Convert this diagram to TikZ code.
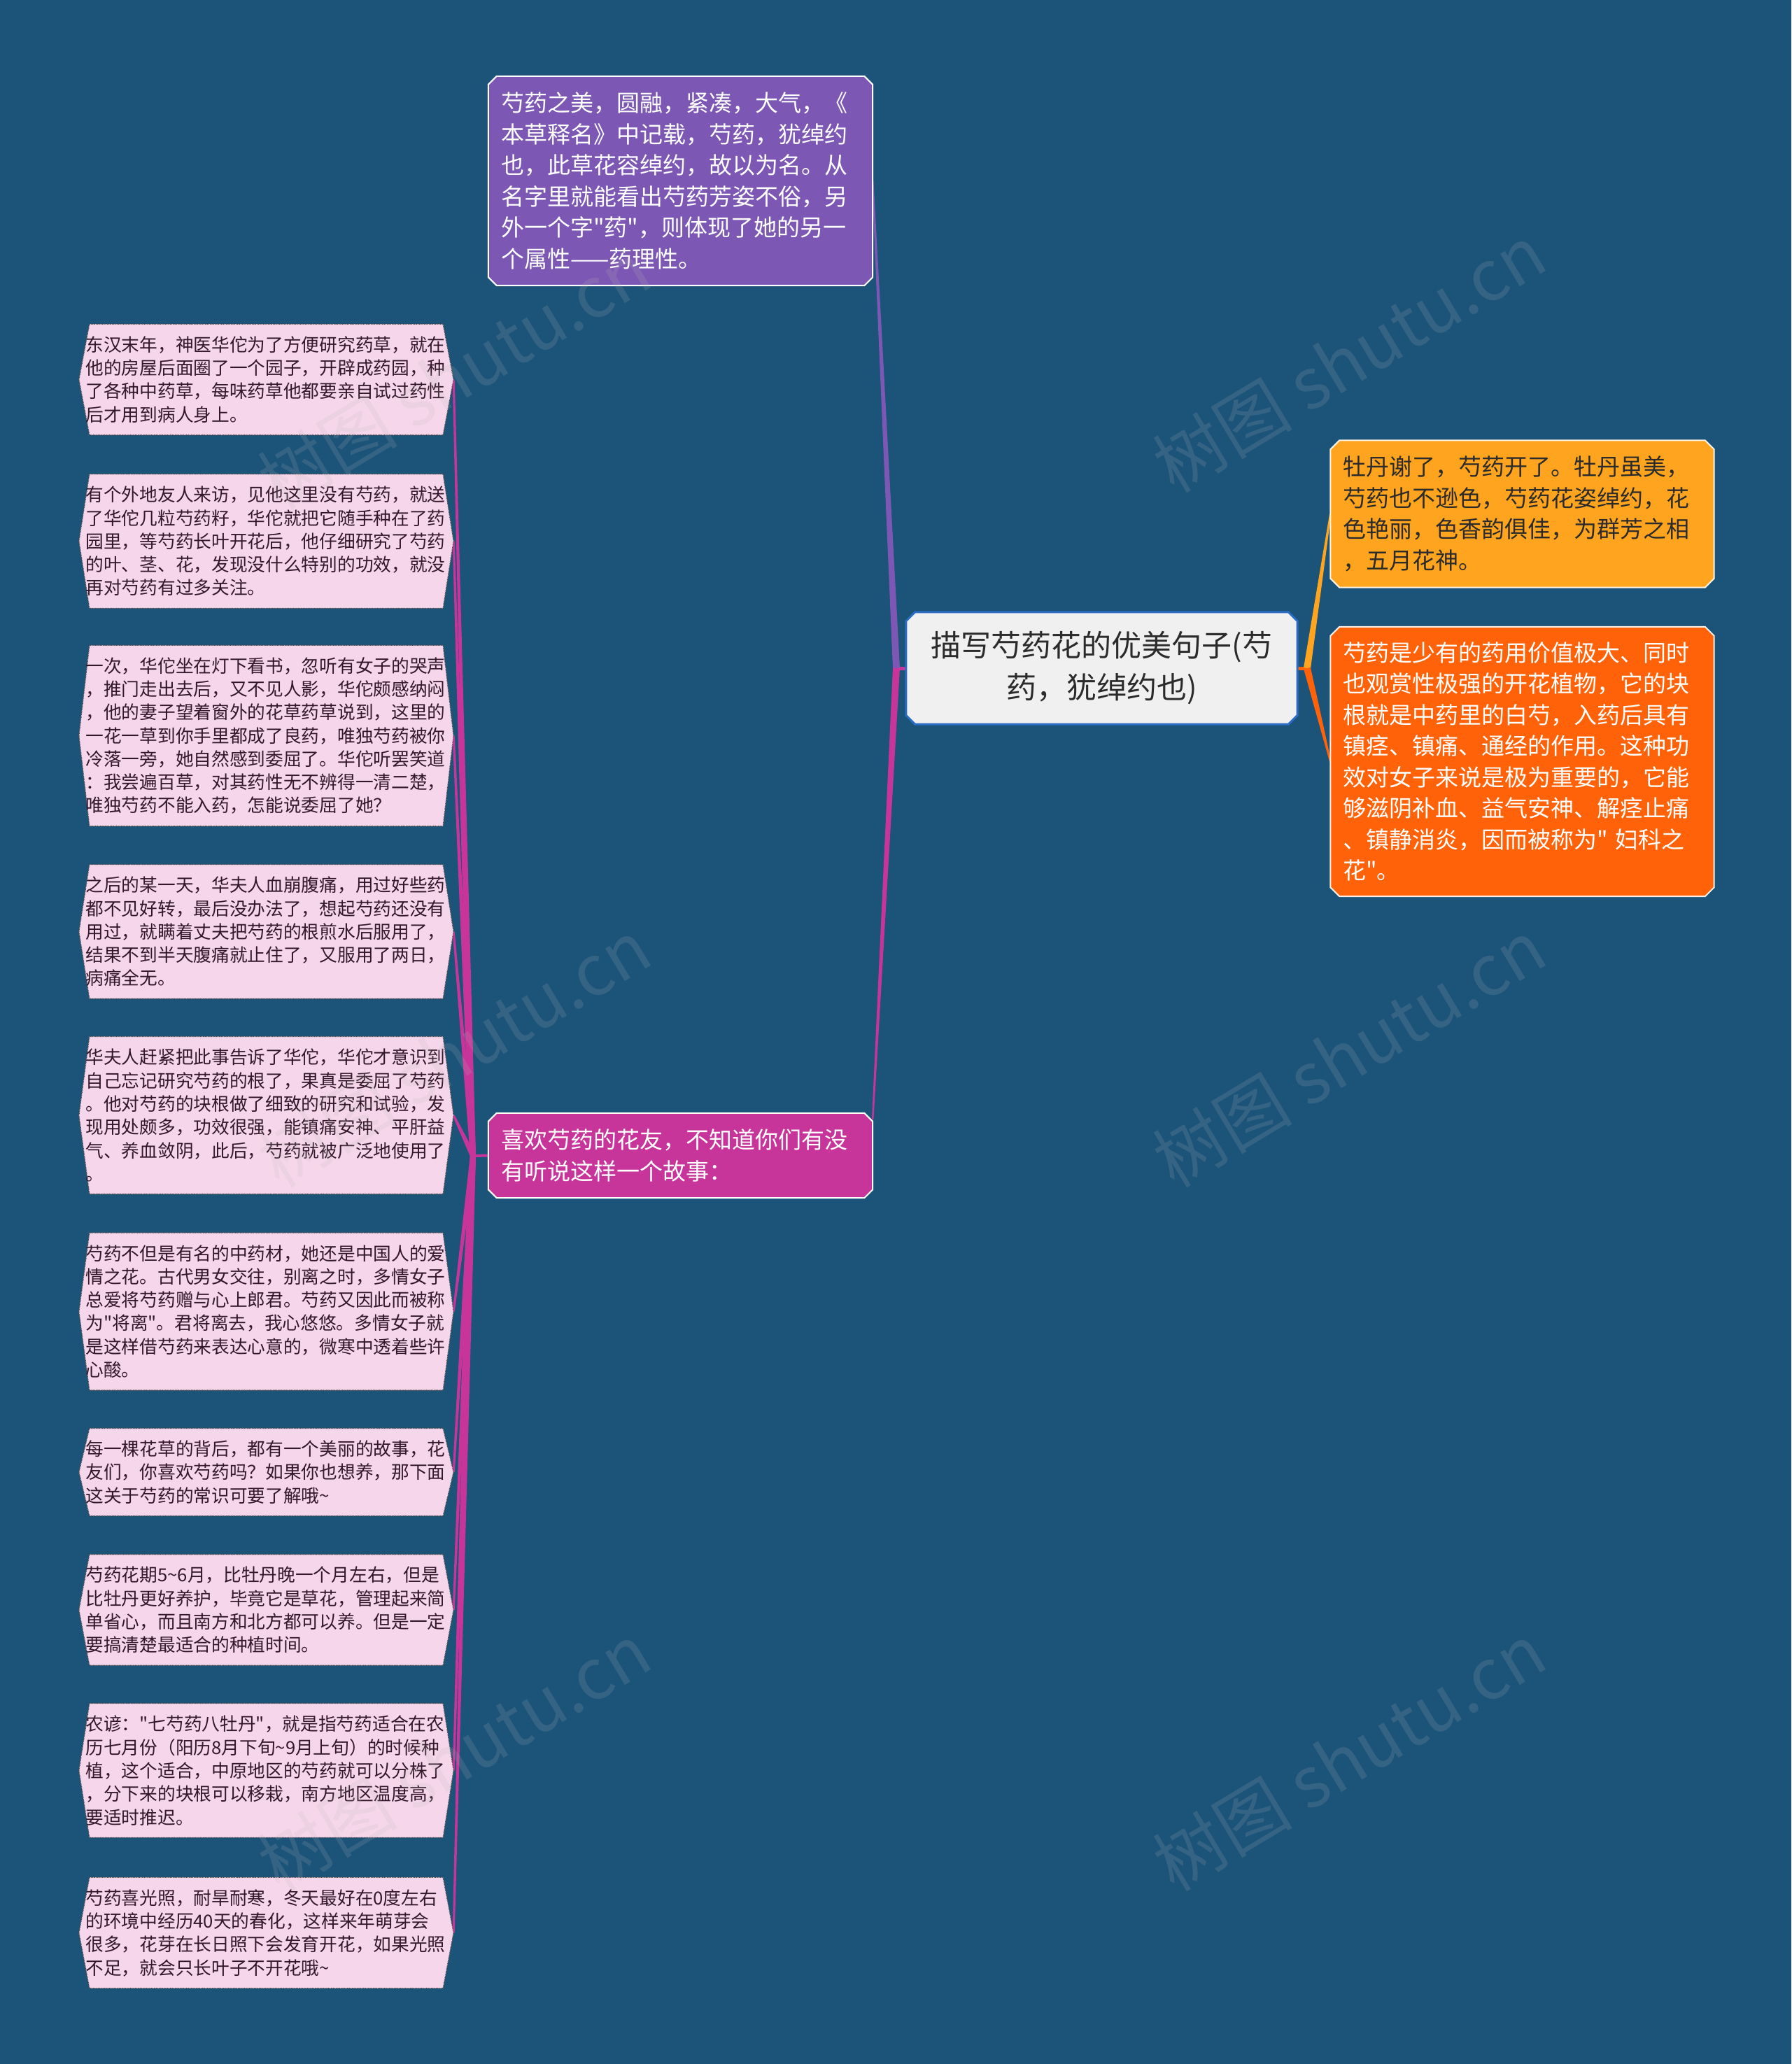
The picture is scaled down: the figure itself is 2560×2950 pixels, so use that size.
\documentclass[tikz,border=0pt]{standalone}
\usepackage{fontspec}
\setmainfont{Noto Sans CJK SC}[Ligatures=TeXOff]
\usetikzlibrary{calc}
\pgfdeclarelayer{back}
\pgfdeclarelayer{marks}
\pgfsetlayers{back,main,marks}
\definecolor{bgc}{HTML}{1B5379}
\definecolor{purp}{HTML}{7C58B4}
\definecolor{mag}{HTML}{C8359A}
\definecolor{orA}{HTML}{FFA41E}
\definecolor{orB}{HTML}{FF6208}
\definecolor{pinkf}{HTML}{F6D6EB}
\definecolor{pinktext}{HTML}{33182B}
\definecolor{cfill}{HTML}{F0F0F0}
\definecolor{cborder}{HTML}{2B6CC4}
\definecolor{darktext}{HTML}{2B2B2B}
\newcommand\chamfbox[3]{%
  \path[#3] ([xshift=#2]#1.north west) -- ([xshift=-#2]#1.north east) -- ([yshift=-#2]#1.north east) -- ([yshift=#2]#1.south east) -- ([xshift=-#2]#1.south east) -- ([xshift=#2]#1.south west) -- ([yshift=#2]#1.south west) -- ([yshift=-#2]#1.north west) -- cycle;}
\newcommand\hexbox[2]{%
  \path[#2] (#1.west) -- ([xshift=15pt]#1.north west) -- ([xshift=-15pt]#1.north east) -- (#1.east) -- ([xshift=-15pt]#1.south east) -- ([xshift=15pt]#1.south west) -- cycle;}
\newcommand\taper[5]{\fill[#5] ($(#1)!#3!90:(#2)$) -- ($(#2)!#4!-90:(#1)$) -- ($(#2)!#4!90:(#1)$) -- ($(#1)!#3!-90:(#2)$) -- cycle;}
\tikzset{
  mainbox/.style={inner sep=0pt, align=left, text width=513pt, font=\fontsize{33pt}{44.5pt}\selectfont},
  pinkbox/.style={inner sep=0pt, align=left, minimum width=535pt, text width=516pt, text=pinktext, font=\fontsize{25.7pt}{33.3pt}\selectfont},
  pinkshape/.style={fill=pinkf, draw=black!70, densely dotted, line width=1.3pt},
  wm/.style={text=gray!55, opacity=0.16, font=\fontsize{100pt}{110pt}\selectfont, rotate=31}
}
\begin{document}
\begin{tikzpicture}[x=1pt,y=-1pt]
\useasboundingbox (0,0) rectangle (2560,2950);
% central
\node[inner sep=0pt, align=center, text width=540pt, minimum width=559pt, minimum height=160pt, text=darktext, font=\fontsize{43pt}{60pt}\selectfont] (c) at (1574.5,955) {描写芍药花的优美句子(芍\\药，犹绰约也)};
% top-level branches
\node[mainbox, minimum width=549pt, minimum height=299pt, text=white] (p) at (972.5,258.5) {芍药之美，圆融，紧凑，大气，《\\本草释名》中记载，芍药，犹绰约\\也，此草花容绰约，故以为名。从\\名字里就能看出芍药芳姿不俗，另\\外一个字"药"，则体现了她的另一\\个属性——药理性。};
\node[mainbox, minimum width=549pt, minimum height=121pt, text=white] (m) at (972.5,1651.5) {喜欢芍药的花友，不知道你们有没\\有听说这样一个故事：};
\node[mainbox, minimum width=548pt, minimum height=210pt, text=darktext] (o1) at (2175.5,734.5) {牡丹谢了，芍药开了。牡丹虽美，\\芍药也不逊色，芍药花姿绰约，花\\色艳丽，色香韵俱佳，为群芳之相\\，五月花神。};
\node[mainbox, minimum width=548pt, minimum height=385pt, text=white] (o2) at (2175.5,1088.5) {芍药是少有的药用价值极大、同时\\也观赏性极强的开花植物，它的块\\根就是中药里的白芍，入药后具有\\镇痉、镇痛、通经的作用。这种功\\效对女子来说是极为重要的，它能\\够滋阴补血、益气安神、解痉止痛\\、镇静消炎，因而被称为" 妇科之\\花"。};
% pink story boxes
\node[pinkbox, minimum height=158.2pt] (k1) at (380.5,542.5) {东汉末年，神医华佗为了方便研究药草，就在\\他的房屋后面圈了一个园子，开辟成药园，种\\了各种中药草，每味药草他都要亲自试过药性\\后才用到病人身上。};
\node[pinkbox, minimum height=191.5pt] (k2) at (380.5,773.5) {有个外地友人来访，见他这里没有芍药，就送\\了华佗几粒芍药籽，华佗就把它随手种在了药\\园里，等芍药长叶开花后，他仔细研究了芍药\\的叶、茎、花，发现没什么特别的功效，就没\\再对芍药有过多关注。};
\node[pinkbox, minimum height=258.1pt] (k3) at (380.5,1051.5) {一次，华佗坐在灯下看书，忽听有女子的哭声\\，推门走出去后，又不见人影，华佗颇感纳闷\\，他的妻子望着窗外的花草药草说到，这里的\\一花一草到你手里都成了良药，唯独芍药被你\\冷落一旁，她自然感到委屈了。华佗听罢笑道\\：我尝遍百草，对其药性无不辨得一清二楚，\\唯独芍药不能入药，怎能说委屈了她？};
\node[pinkbox, minimum height=191.5pt] (k4) at (380.5,1331.5) {之后的某一天，华夫人血崩腹痛，用过好些药\\都不见好转，最后没办法了，想起芍药还没有\\用过，就瞒着丈夫把芍药的根煎水后服用了，\\结果不到半天腹痛就止住了，又服用了两日，\\病痛全无。};
\node[pinkbox, minimum height=224.8pt] (k5) at (380.5,1594) {华夫人赶紧把此事告诉了华佗，华佗才意识到\\自己忘记研究芍药的根了，果真是委屈了芍药\\。他对芍药的块根做了细致的研究和试验，发\\现用处颇多，功效很强，能镇痛安神、平肝益\\气、养血敛阴，此后，芍药就被广泛地使用了\\。};
\node[pinkbox, minimum height=224.8pt] (k6) at (380.5,1874.5) {芍药不但是有名的中药材，她还是中国人的爱\\情之花。古代男女交往，别离之时，多情女子\\总爱将芍药赠与心上郎君。芍药又因此而被称\\为"将离"。君将离去，我心悠悠。多情女子就\\是这样借芍药来表达心意的，微寒中透着些许\\心酸。};
\node[pinkbox, minimum height=124.9pt] (k7) at (380.5,2104) {每一棵花草的背后，都有一个美丽的故事，花\\友们，你喜欢芍药吗？如果你也想养，那下面\\这关于芍药的常识可要了解哦\textasciitilde};
\node[pinkbox, minimum height=158.2pt] (k8) at (380.5,2301) {芍药花期5\textasciitilde 6月，比牡丹晚一个月左右，但是\\比牡丹更好养护，毕竟它是草花，管理起来简\\单省心，而且南方和北方都可以养。但是一定\\要搞清楚最适合的种植时间。};
\node[pinkbox, minimum height=191.5pt] (k9) at (380.5,2530.5) {农谚："七芍药八牡丹"，就是指芍药适合在农\\历七月份（阳历8月下旬\textasciitilde 9月上旬）的时候种\\植，这个适合，中原地区的芍药就可以分株了\\，分下来的块根可以移栽，南方地区温度高，\\要适时推迟。};
\node[pinkbox, minimum height=158.2pt] (k10) at (380.5,2762.5) {芍药喜光照，耐旱耐寒，冬天最好在0度左右\\的环境中经历40天的春化，这样来年萌芽会\\很多，花芽在长日照下会发育开花，如果光照\\不足，就会只长叶子不开花哦\textasciitilde};
% junctions
\coordinate (jc) at (1281,955);
\coordinate (jr) at (1868,955);
\coordinate (jl) at (676,1652);
\begin{pgfonlayer}{back}
\fill[bgc] (0,0) rectangle (2560,2950);
% connectors
\draw[mag, line width=5pt] (c.west) -- (jc);
\draw[orB, line width=5pt] (c.east) -- (jr);
\taper{jc}{p.east}{5pt}{1.2pt}{purp}
\taper{jc}{$(m.north east)+(0,9)$}{5pt}{1.2pt}{mag}
\taper{jr}{o1.west}{5pt}{1.2pt}{orA}
\taper{jr}{o2.west}{5pt}{1.2pt}{orB}
\draw[mag, line width=4pt] (m.west) -- (jl);
\foreach \k in {k1,k2,k3,k4,k5,k6,k7,k8,k9,k10}{
  \taper{jl}{\k.east}{4pt}{1.5pt}{mag}
}
% shapes
\chamfbox{c}{13pt}{fill=cfill, draw=cborder, line width=3pt}
\chamfbox{p}{12pt}{fill=purp, draw=white, line width=2pt}
\chamfbox{m}{12pt}{fill=mag, draw=white, line width=2pt}
\chamfbox{o1}{13pt}{fill=orA, draw=white!90!orA, line width=2pt}
\chamfbox{o2}{13pt}{fill=orB, draw=white!90!orB, line width=2pt}
\foreach \k in {k1,k2,k3,k4,k5,k6,k7,k8,k9,k10}{
  \hexbox{\k}{pinkshape}
}
\end{pgfonlayer}
% watermarks
\begin{pgfonlayer}{marks}
\node[wm] (w1) at (649,536) {树图 shutu.cn};
\node[wm] (w2) at (1928,512) {树图 shutu.cn};
\node[wm] (w3) at (649,1505) {树图 shutu.cn};
\node[wm] (w4) at (1928,1505) {树图 shutu.cn};
\node[wm] (w5) at (649,2511) {树图 shutu.cn};
\node[wm] (w6) at (1928,2511) {树图 shutu.cn};
\end{pgfonlayer}
\end{tikzpicture}
\end{document}
